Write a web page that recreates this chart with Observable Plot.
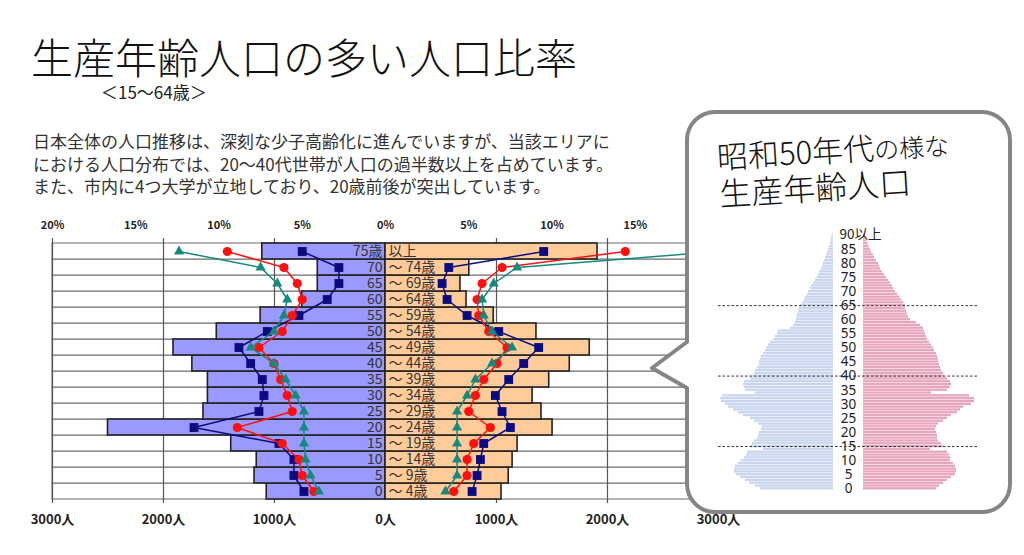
<!DOCTYPE html>
<html><head><meta charset="utf-8">
<script src="https://cdn.jsdelivr.net/npm/d3@7"></script>
<script src="https://cdn.jsdelivr.net/npm/@observablehq/plot@0.6"></script>
<style>
html,body{margin:0;padding:0;background:#fff;}
body{width:1024px;height:555px;overflow:hidden;position:relative;font-family:"Noto Sans CJK JP","Noto Sans",sans-serif;}
#title{position:absolute;left:31px;top:35px;font-size:42px;line-height:1;font-weight:300;color:#111;white-space:nowrap;}
#sub{position:absolute;left:101px;top:83px;font-size:17px;line-height:1;color:#222;white-space:nowrap;}
#para{position:absolute;left:33px;top:130px;font-size:17px;line-height:22.5px;color:#333;white-space:nowrap;}
#main{position:absolute;left:0;top:198px;}
#callout{position:absolute;left:0;top:0;pointer-events:none;}
#inner{position:absolute;left:718px;top:220px;}
#ctext{position:absolute;left:716px;top:139px;transform:rotate(-3.5deg);transform-origin:0 0;color:#111;white-space:nowrap;font-weight:300;}
#ctext .l1{font-size:31px;line-height:33px;}
#ctext .l1 small{font-size:25px;}
#ctext .l2{font-size:32px;line-height:34px;}
</style>
</head><body>
<div id="title">生産年齢人口の多い人口比率</div>
<div id="sub">＜15～64歳＞</div>
<div id="para">日本全体の人口推移は、深刻な少子高齢化に進んでいますが、当該エリアに<br>における人口分布では、20～40代世帯が人口の過半数以上を占めています。<br>また、市内に4つ大学が立地しており、20歳前後が突出しています。</div>
<div id="main"></div>
<svg id="callout" width="1024" height="555"><path d="M715 112 H982 A28 28 0 0 1 1010 140 V484 A28 28 0 0 1 982 512 H715 A28 28 0 0 1 687 484 V388 L652 368 L687 342 V140 A28 28 0 0 1 715 112 Z" fill="#fff" stroke="#858585" stroke-width="4" stroke-linejoin="round"/></svg>
<div id="inner"></div>
<div id="ctext"><div class="l1">昭和50年代<small>の様な</small></div><div class="l2">生産年齢人口</div></div>
<script>
// ---- main pyramid (5-year groups, bottom to top) ----
const ageGroups = ["0～4歳","5～9歳","10～14歳","15～19歳","20～24歳","25～29歳","30～34歳","35～39歳","40～44歳","45～49歳","50～54歳","55～59歳","60～64歳","65～69歳","70～74歳","75歳以上"];
const labelNum  = ["0","5","10","15","20","25","30","35","40","45","50","55","60","65","70","75歳"];
const labelRest = ["～ 4歳","～ 9歳","～ 14歳","～ 19歳","～ 24歳","～ 29歳","～ 34歳","～ 39歳","～ 44歳","～ 49歳","～ 54歳","～ 59歳","～ 64歳","～ 69歳","～ 74歳","以上"];
const maleCount   = [1070,1180,1160,1390,2500,1640,1600,1600,1740,1910,1520,1125,750,610,610,1110];
const femaleCount = [1045,1110,1145,1190,1505,1405,1325,1475,1660,1840,1360,975,730,675,755,1910];
// percentage series (%)
const areaMalePct     = [4.9,5.5,5.5,6.4,11.5,7.6,7.3,7.4,8.1,8.8,7.1,5.2,3.5,2.8,2.8,5.0];
const areaFemalePct   = [5.2,5.5,5.7,5.9,7.5,7.0,6.6,7.4,8.3,9.2,6.8,4.9,3.7,3.4,3.8,9.5];
const cityMalePct     = [4.3,5.0,5.2,6.2,8.9,5.6,5.9,6.3,6.7,7.6,6.2,5.6,5.0,5.3,6.1,9.5];
const cityFemalePct   = [4.1,4.9,4.9,5.3,6.3,5.0,5.4,5.9,6.7,7.3,6.2,5.6,5.5,5.8,7.0,14.4];
const nationMalePct   = [4.0,4.5,4.8,4.9,4.9,4.9,5.4,6.0,6.7,8.1,6.7,6.1,5.9,6.5,7.5,12.4];
const nationFemalePct = [3.6,4.3,4.3,4.3,4.3,4.3,4.9,5.4,6.4,7.6,6.4,5.9,5.8,6.5,7.9,20.0];
const pctTicks   = [-20,-15,-10,-5,0,5,10,15,20];
const countTicks = [-3000,-2000,-1000,0,1000,2000,3000];
const PERSONS_PER_PCT = 150; // 20% axis aligns with 3000人

// ---- 1980-style national pyramid (single years 0..90+, 千人) ----
const ages1980 = d3.range(0, 91);
const male1980 = [730,780,840,880,930,970,990,990,980,950,920,890,870,860,700,830,810,790,760,750,740,720,710,750,790,830,900,950,1000,1050,1080,1120,1130,1110,780,880,890,900,890,830,810,790,780,760,740,740,730,720,700,680,670,650,630,600,580,560,550,430,400,380,370,370,360,350,340,330,310,290,280,260,250,230,220,200,180,160,150,140,120,110,100,90,80,70,60,50,40,30,25,20,15];
const female1980 = [730,760,800,840,880,920,930,930,920,900,870,870,860,840,670,800,780,750,740,740,730,720,730,750,800,840,880,940,970,1000,1080,1110,1110,1060,680,840,870,880,870,840,810,800,780,770,760,750,750,740,730,710,700,680,660,640,630,620,610,600,570,530,470,450,440,430,420,420,400,380,360,340,320,300,290,270,250,230,210,190,170,160,150,130,110,100,80,70,55,45,35,25,20];
const innerTicks = [0,5,10,15,20,25,30,35,40,45,50,55,60,65,70,75,80,85];
const innerRules = [15,40,65];

const JP = '"Noto Sans CJK JP","Noto Sans",sans-serif';

const rows = ageGroups.map((g,i)=>({group:g, male:maleCount[i], female:femaleCount[i], lo:labelNum[i], hi:labelRest[i]}));
const pts = (arr, side) => arr.map((p,i)=>({group:ageGroups[i], x: side*p*PERSONS_PER_PCT}));

const series = [
  {m: areaMalePct, f: areaFemalePct, color: "#0b0b80", symbol: "square", r: 5},
  {m: cityMalePct, f: cityFemalePct, color: "#ff1010", symbol: "circle", r: 4.6},
  {m: nationMalePct, f: nationFemalePct, color: "#14897c", symbol: "triangle", r: 3.8}
];
const lineMarks = [];
for (const s of series) {
  for (const side of [-1, 1]) {
    const d = pts(side < 0 ? s.m : s.f, side);
    lineMarks.push(Plot.line(d, {x:"x", y:"group", stroke:s.color, strokeWidth:1.5}));
    lineMarks.push(Plot.dot(d, {x:"x", y:"group", fill:s.color, symbol:s.symbol, r:s.r}));
  }
}

const main = Plot.plot({
  width: 760, height: 357,
  marginTop: 40, marginBottom: 52, marginLeft: 52, marginRight: 42,
  x: {domain: [-3000, 3000], axis: null},
  y: {domain: ageGroups.slice().reverse(), axis: null, padding: 0},
  style: {fontFamily: JP, background: "white"},
  marks: [
    Plot.cell(ageGroups, {y: d=>d, fill: "white", stroke: "#6a6a6a", strokeWidth: 1}),
    Plot.ruleX(countTicks.filter(v=>v!==0), {stroke: "#555", strokeWidth: 1.2}),
    Plot.barX(rows, {x1: 0, x2: d=>-d.male, y: "group", fill: "#9999ff", stroke: "#222", strokeWidth: 1.6}),
    Plot.barX(rows, {x1: 0, x2: "female", y: "group", fill: "#ffcc99", stroke: "#222", strokeWidth: 1.6}),
    Plot.text(rows, {x: 0, y: "group", text: "lo", textAnchor: "end", dx: -3, fontSize: 14, fill: "#333"}),
    Plot.text(rows, {x: 0, y: "group", text: "hi", textAnchor: "start", dx: 3, fontSize: 14, fill: "#333"}),
    ...lineMarks,
    Plot.text(pctTicks, {x: d=>d*PERSONS_PER_PCT, text: d=>Math.abs(d)+"%", frameAnchor: "top", dy: -17, fontWeight: "bold", fontSize: 11, fill: "#222"}),
    Plot.text(countTicks, {x: d=>d, text: d=>Math.abs(d)+"人", frameAnchor: "bottom", dy: 20, fontWeight: "bold", fontSize: 13, fill: "#222"})
  ]
});
document.getElementById("main").appendChild(main);

const pyr = ages1980.map((a,i)=>({age:a, m:male1980[i], f:female1980[i]}));
const inner = Plot.plot({
  width: 260, height: 283,
  marginTop: 13, marginBottom: 13, marginLeft: 0, marginRight: 0,
  x: {domain: [-1300, 1300], axis: null},
  y: {domain: ages1980.slice().reverse(), axis: null, padding: 0.18},
  style: {fontFamily: JP, background: "white"},
  marks: [
    Plot.barX(pyr, {x1: 0, x2: d=>-d.m, y: "age", dx: -15, fill: "#c9d6ee"}),
    Plot.barX(pyr, {x1: 0, x2: "f", y: "age", dx: 15, fill: "#e8a6be"}),
    Plot.ruleY(innerRules, {stroke: "#333", strokeWidth: 1, strokeDasharray: "2.5,2"}),
    Plot.text(innerTicks, {x: 0, y: d=>d, text: d=>String(d), fontSize: 13.5, fill: "#222", fontFamily: '"Noto Sans",sans-serif'}),
    Plot.text([90], {x: 0, y: d=>d, text: ()=>"90以上", textAnchor: "start", dx: -9, fontSize: 13.5, fill: "#222"})
  ]
});
document.getElementById("inner").appendChild(inner);
</script>
</body></html>
